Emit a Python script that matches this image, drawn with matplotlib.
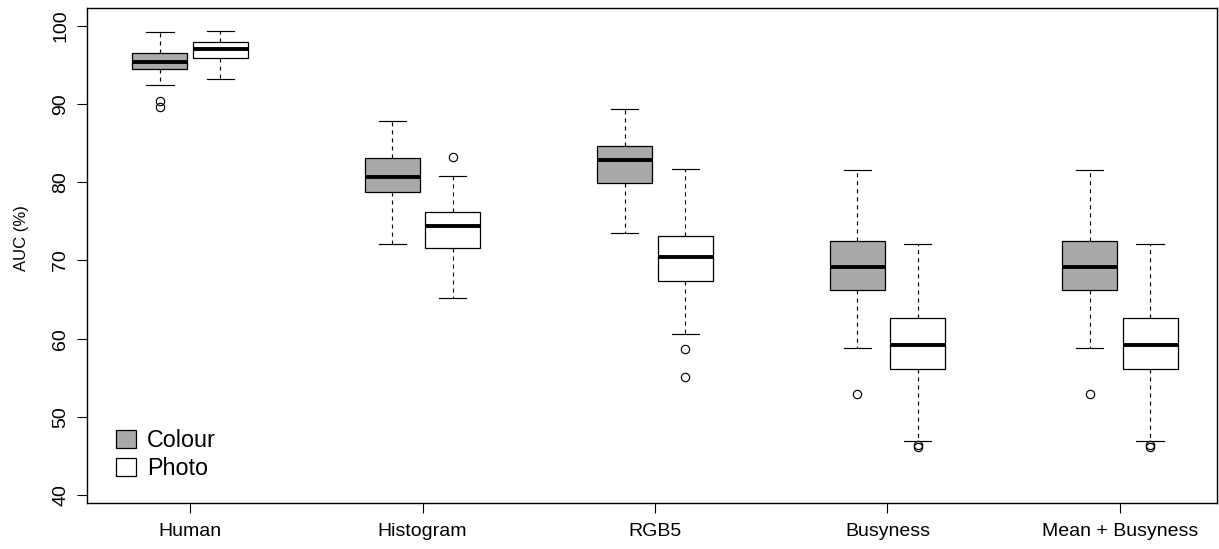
import matplotlib.pyplot as plt
from matplotlib.patches import Patch


# =====================================================
# DATA
# =====================================================

methods = ["Human", "Histogram", "RGB5", "Busyness", "Mean + Busyness"]
series = ["Colour", "Photo"]

# colour condition
colour_whislo = [92.45, 72.15, 73.48, 58.85, 58.85]
colour_q1 = [94.5, 78.72, 79.87, 66.2, 66.2]
colour_med = [95.43, 80.68, 82.82, 69.15, 69.15]
colour_q3 = [96.5, 83.15, 84.6, 72.55, 72.55]
colour_whishi = [99.23, 87.88, 89.38, 81.6, 81.6]
colour_fliers = [[90.44, 89.6], [], [], [52.95], [52.95]]

# photo condition
photo_whislo = [93.22, 65.2, 60.64, 46.91, 46.91]
photo_q1 = [95.9, 71.64, 67.42, 56.14, 56.14]
photo_med = [97.02, 74.45, 70.49, 59.13, 59.13]
photo_q3 = [97.91, 76.16, 73.13, 62.66, 62.66]
photo_whishi = [99.32, 80.85, 81.74, 72.07, 72.07]
photo_fliers = [[], [83.24], [58.68, 55.13], [46.2, 46.35], [46.2, 46.35]]

yticks = [40, 50, 60, 70, 80, 90, 100]


# =====================================================
# BUILD STATS
# =====================================================

def make_stats(lo, q1, med, q3, hi, fl):
    return [
        dict(whislo=lo[i], q1=q1[i], med=med[i], q3=q3[i],
             whishi=hi[i], fliers=fl[i])
        for i in range(len(methods))
    ]


colour_stats = make_stats(colour_whislo, colour_q1, colour_med,
                          colour_q3, colour_whishi, colour_fliers)
photo_stats = make_stats(photo_whislo, photo_q1, photo_med,
                         photo_q3, photo_whishi, photo_fliers)


# =====================================================
# PLOT
# =====================================================

plt.rcParams["font.family"] = ["Liberation Sans", "DejaVu Sans"]

fig = plt.figure(figsize=(12.19, 5.49), dpi=100)
ax = fig.add_axes([0.0716, 0.0829, 0.9265, 0.9034])

box_w = 0.236
offset = 0.13
centers = list(range(len(methods)))

fills = {"Colour": "#a9a9a9", "Photo": "white"}

for stats, name, sign in [(colour_stats, "Colour", -1),
                          (photo_stats, "Photo", 1)]:

    ax.bxp(
        stats,
        positions=[c + sign * offset for c in centers],
        widths=box_w,
        capwidths=box_w / 2,
        patch_artist=True,
        manage_ticks=False,
        boxprops=dict(facecolor=fills[name], edgecolor="black",
                      linewidth=0.9),
        medianprops=dict(color="black", linewidth=2.8,
                         solid_capstyle="butt"),
        whiskerprops=dict(color="black", linewidth=0.85,
                          linestyle=(0, (3.4, 3.4))),
        capprops=dict(color="black", linewidth=0.85),
        flierprops=dict(marker="o", markerfacecolor="none",
                        markeredgecolor="black", markersize=6,
                        markeredgewidth=0.85),
    )

ax.set_xlim(-0.442, 4.416)
ax.set_ylim(38.91, 102.36)

ax.set_xticks(centers)
ax.set_xticklabels(methods, fontsize=14)
ax.set_yticks(yticks)
ax.set_yticklabels([str(t) for t in yticks], fontsize=14,
                   rotation=90, va="center")

ax.tick_params(axis="both", length=7, width=0.8, color="black")
ax.tick_params(axis="x", pad=7)
ax.tick_params(axis="y", pad=6)

for s in ax.spines.values():
    s.set_linewidth(1.0)

ax.set_ylabel("AUC (%)", fontsize=12)
ax.yaxis.set_label_coords(-0.052, 0.535)

handles = [
    Patch(facecolor=fills[n], edgecolor="black", linewidth=0.9)
    for n in series
]

ax.legend(
    handles,
    series,
    loc="upper left",
    bbox_to_anchor=(0.0254, 0.15),
    frameon=False,
    fontsize=16.8,
    handlelength=0.84,
    handleheight=0.84,
    handletextpad=0.5,
    labelspacing=0.22,
    borderpad=0,
    borderaxespad=0,
)

plt.savefig("out.png", dpi=100)
plt.close()
